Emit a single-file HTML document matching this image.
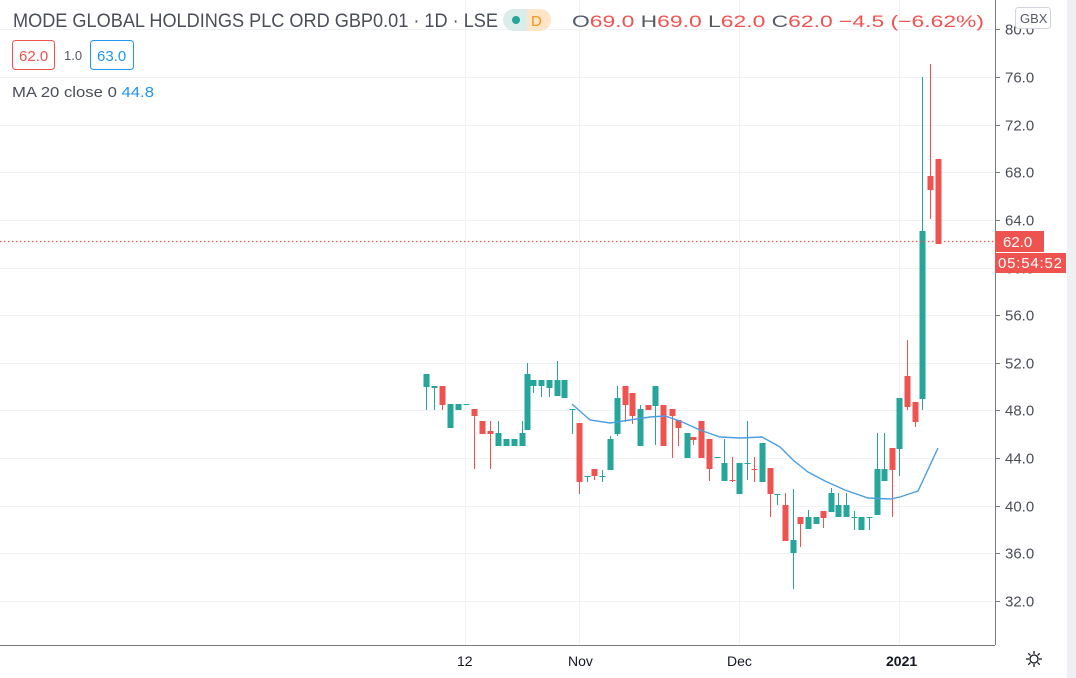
<!DOCTYPE html>
<html><head><meta charset="utf-8"><style>
html,body{margin:0;padding:0;background:#fff;}
body{width:1076px;height:678px;overflow:hidden;position:relative;font-family:"Liberation Sans",sans-serif;}
svg{position:absolute;left:0;top:0;}
</style></head><body>
<svg id="s" width="1076" height="678" xmlns="http://www.w3.org/2000/svg" font-family="Liberation Sans, sans-serif">
<rect x="1067" y="0" width="9" height="678" fill="#eef0f3"/>
<g id="grid" stroke="#f0f2f5" stroke-width="1"></g>
<line x1="995.5" y1="0" x2="995.5" y2="645" stroke="#787b86"/>
<line x1="0" y1="645.5" x2="995" y2="645.5" stroke="#787b86"/>
<g id="ylab" font-size="15" fill="#4a4e59"></g>
<g id="c"></g>
<polyline fill="none" stroke="#4b9fe1" stroke-width="1.4" points="572,404 590,420 610,423 630,420 650,417 665,416 680,421 700,430 720,437 740,438 762,437 780,447 793,460 808,472 825,481 845,490 868,498 890,499 900,497 915,492 918,491 938,448"/>
<line x1="0" y1="241.5" x2="995" y2="241.5" stroke="#ef5350" stroke-width="1.2" stroke-dasharray="1.5,2.5"/>
<rect x="995" y="231" width="49" height="21" fill="#ef5350"/>
<text x="1003" y="247" font-size="15" fill="#fff">62.0</text>
<rect x="995" y="253" width="71" height="20" fill="#ef5350"/>
<text x="998" y="268" font-size="15" fill="#fff" textLength="64">05:54:52</text>
<rect x="1015.5" y="7.5" width="35" height="21" rx="3" fill="#fff" stroke="#d1d4dc"/>
<text x="1020" y="23" font-size="13" fill="#555a66">GBX</text>
<g font-size="14" fill="#131722">
<text x="457" y="666">12</text><text x="568" y="666">Nov</text><text x="727" y="666">Dec</text><text x="886" y="666" font-weight="bold">2021</text>
</g>
<g stroke="#131722" fill="none" stroke-width="1.3">
<circle cx="1034" cy="659" r="4"/>
<path d="M1034 651v3M1034 664v3M1026 659h3M1039 659h3M1028.3 653.3l2.1 2.1M1037.6 662.6l2.1 2.1M1028.3 664.7l2.1-2.1M1037.6 655.4l2.1-2.1"/>
</g>
<text x="13" y="27" font-size="19" fill="#4a4e59" textLength="485" lengthAdjust="spacingAndGlyphs">MODE GLOBAL HOLDINGS PLC ORD GBP0.01 · 1D · LSE</text>
<rect x="503" y="9" width="48" height="22" rx="11" fill="#fde5c8"/>
<path d="M514 9h13v22h-13a11 11 0 0 1 0-22z" fill="#d9eeea"/>
<circle cx="516" cy="20" r="4" fill="#26a69a"/>
<text x="531" y="26" font-size="15" fill="#f7931a">D</text>
<text x="572" y="27" font-size="17" fill="#ef5350" textLength="412" lengthAdjust="spacingAndGlyphs"><tspan fill="#555a66">O</tspan>69.0 <tspan fill="#555a66">H</tspan>69.0 <tspan fill="#555a66">L</tspan>62.0 <tspan fill="#555a66">C</tspan>62.0 −4.5 (−6.62%)</text>
<rect x="12.5" y="40.5" width="42" height="29" rx="3" fill="#fff" stroke="#ef5350"/>
<text x="19" y="61" font-size="15" fill="#ef5350">62.0</text>
<text x="64" y="60" font-size="13" fill="#555a66">1.0</text>
<rect x="90.5" y="40.5" width="43" height="29" rx="3" fill="#fff" stroke="#2196f3"/>
<text x="97" y="61" font-size="15" fill="#2196f3">63.0</text>
<text x="12" y="97" font-size="15" fill="#4a4e59" textLength="142" lengthAdjust="spacingAndGlyphs">MA 20 close 0  <tspan fill="#2196f3">44.8</tspan></text>
</svg>
<script>
var NS="http://www.w3.org/2000/svg";
function el(p,t,a){var e=document.createElementNS(NS,t);for(var k in a)e.setAttribute(k,a[k]);p.appendChild(e);return e;}
var g=document.getElementById('grid'),yl=document.getElementById('ylab');
function Y(p){return 77+(76-p)*11.909;}
for(var p=32;p<=80;p+=4){var y=Math.round(Y(p))+0.5;el(g,'line',{x1:0,y1:y,x2:995,y2:y});
 el(yl,'line',{x1:995,y1:y,x2:1000,y2:y,stroke:'#787b86'});
 var t=el(yl,'text',{x:1005,y:y+5});t.textContent=p.toFixed(1);}
[465,579,739,899].forEach(function(x){el(g,'line',{x1:x+.5,y1:0,x2:x+.5,y2:645});});
var C=[
[426,374,387,374,410,1],[434,386,388,386,410,1],[442,386,405,386,410,0],[450,404,428,404,428,1],[458,404,410,404,410,1],[466,404,405,404,405,1],
[474,409,416,409,469,0],[482,421,434,421,434,0],[490,431,434,421,469,0],[498,433,446,421,446,1],[506,439,446,439,446,1],[514,439,446,439,446,1],
[522,433,446,421,446,1],[527,374,430,363,430,1],[533,380,386,380,393,1],[541,380,386,380,397,1],[549,380,388,380,397,1],[557,380,396,361,396,1],[564,380,398,380,398,1],
[572,409,410,409,434,1],[579,423,482,423,494,0],[587,476,477,476,482,1],[594,469,476,469,480,0],[602,476,477,470,482,1],[610,439,470,436,470,1],[617,398,434,386,436,1],
[625,386,405,386,422,0],[632,393,416,393,424,0],[640,409,446,405,446,1],[648,405,410,405,410,0],[655,386,406,386,445,1],[663,405,446,405,446,0],[672,409,416,409,458,0],
[678,420,428,420,446,0],[687,433,458,433,458,1],[693,437,440,437,445,0],[701,421,458,421,458,0],[709,439,469,439,481,0],[717,457,458,457,458,1],[724,463,481,439,481,1],
[732,480,481,457,482,0],[739,463,494,463,494,1],[747,463,464,421,480,1],[754,469,470,457,482,0],[762,443,482,443,482,1],[770,468,494,468,517,0],[777,494,495,494,505,1],
[785,505,541,493,541,0],[793,540,553,489,589,1],[800,517,524,517,547,0],[808,517,529,510,529,1],[816,517,524,517,524,1],[823,511,518,511,528,0],[831,493,512,488,512,1],
[838,505,517,493,517,1],[846,505,517,493,517,1],[854,517,518,511,530,1],[861,517,530,517,530,1],[869,517,518,517,530,1],[877,469,515,433,515,1],[884,469,481,433,481,1],
[892,448,470,448,517,0],[899,398,449,398,476,1],[907,376,407,340,410,0],[915,402,422,402,427,0],[922,231,399,77,410,1],[930,176,190,64,219,0],[938,159,244,159,244,0]];
var c=document.getElementById('c');
C.forEach(function(d){var col=d[5]?'#26a69a':'#ef5350';
 el(c,'line',{x1:d[0]+.5,y1:d[3],x2:d[0]+.5,y2:d[4],stroke:col});
 el(c,'rect',{x:d[0]-2.5,y:d[1],width:6,height:Math.max(1,d[2]-d[1]),fill:col});});
</script>
</body></html>
